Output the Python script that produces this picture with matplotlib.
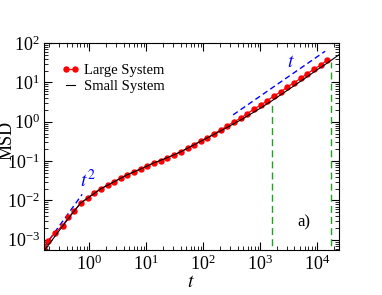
import numpy as np
import matplotlib.pyplot as plt
from matplotlib.lines import Line2D
from matplotlib.ticker import LogLocator, NullFormatter

plt.rcParams['font.family'] = ['Liberation Serif', 'DejaVu Serif']
plt.rcParams['mathtext.fontset'] = 'stix'

# large system (red dots)
t_large = [0.163, 0.19, 0.25, 0.34, 0.43, 0.55, 0.72, 0.96, 1.22, 1.62, 2.15, 2.75,
           3.64, 4.65, 6.17, 8.2, 10.4, 13.8, 18.3, 23.4, 31, 41, 55, 69, 92, 118,
           156, 208, 265, 350, 465, 590, 780, 1040, 1320, 1770, 2340, 2970, 3960,
           5250, 6640, 8880, 11700, 15000]
msd_large = [6.7e-4, 9.5e-4, 1.5e-3, 2.3e-3, 3.7e-3, 5.5e-3, 8.8e-3, 0.0118, 0.0158,
             0.020, 0.025, 0.030, 0.038, 0.045, 0.054, 0.064, 0.076, 0.091, 0.102,
             0.122, 0.145, 0.174, 0.22, 0.26, 0.33, 0.39, 0.50, 0.63, 0.79, 1.0,
             1.26, 1.6, 2.1, 2.7, 3.4, 4.6, 5.8, 7.7, 9.8, 13.1, 16.5, 22, 28, 37]

# small system (black line)
t_small = [0.165, 0.2, 0.3, 0.5, 0.7, 1.0, 1.6, 2.75, 4.65, 8.2, 13.8, 23.4, 41, 69,
           118, 200, 300, 500, 1000, 1600, 3000, 6000, 10000, 15000, 24000]
msd_small = [5.5e-4, 8e-4, 1.75e-3, 4.6e-3, 8.5e-3, 0.0122, 0.0198, 0.030, 0.045,
             0.064, 0.091, 0.122, 0.174, 0.26, 0.39, 0.58, 0.80, 1.2, 2.2, 3.4,
             6.3, 12.5, 21, 31, 50]

# guide lines
t_ball = [0.16, 0.75]
msd_ball = [6.5e-4, 0.0143]
t_diff = [335, 13800]
msd_diff = [1.5, 62]

# crossover times (green)
t_cross = [1620, 17600]
msd_cross = [3.2, 33]

fig = plt.figure(figsize=(3.82, 2.95), dpi=100)
ax = fig.add_axes([0.115, 0.1525, 0.772, 0.7015])

ax.plot(t_ball, msd_ball, '--', color='blue', lw=1, dashes=(4, 2.5))
ax.plot(t_diff, msd_diff, '--', color='blue', lw=1, dashes=(4, 2.5))
for tc, mc in zip(t_cross, msd_cross):
    ax.plot([tc, tc], [1e-4, mc], '--', color='#22a022', lw=1, dashes=(5, 3))

ax.plot(t_large, msd_large, '-o', color='red', lw=0.9, ms=3.6, mec='red')
ax.plot(t_small, msd_small, '-', color='black', lw=0.8)

ax.set_xscale('log')
ax.set_yscale('log')
ax.set_xlim(0.16, 24000)
ax.set_ylim(5.5e-4, 100)
for axis in (ax.xaxis, ax.yaxis):
    axis.set_major_locator(LogLocator(base=10, numticks=20))
    axis.set_minor_locator(LogLocator(base=10, subs=np.arange(2, 10), numticks=20))
    axis.set_minor_formatter(NullFormatter())

ax.tick_params(which='both', direction='in', top=True, right=True, labelsize=13)
ax.tick_params(which='major', length=6, pad=3)
ax.tick_params(which='minor', length=3)

ax.set_xlabel('$t$', fontsize=14, labelpad=0)
ax.set_ylabel('MSD', fontsize=13)
ax.yaxis.set_label_coords(-0.095, 0.53)

ax.text(0.7, 0.022, '$t^2$', color='blue', fontsize=14)
ax.text(3000, 25, '$t$', color='blue', fontsize=14)
ax.text(4500, 2.2e-3, 'a)', fontsize=12)

h1 = Line2D([], [], color='red', lw=0.9, marker='o', ms=3.6, mec='red')
h2 = Line2D([], [], color='black', lw=0.8)
ax.legend([h1, h2], ['Large System', 'Small System'], loc='upper left',
          frameon=False, fontsize=10.5, numpoints=2, handlelength=1.2,
          handletextpad=0.35, borderaxespad=0.0, labelspacing=0.2,
          borderpad=0.0, bbox_to_anchor=(0.06, 0.9))

fig.savefig('out.png', dpi=100)
